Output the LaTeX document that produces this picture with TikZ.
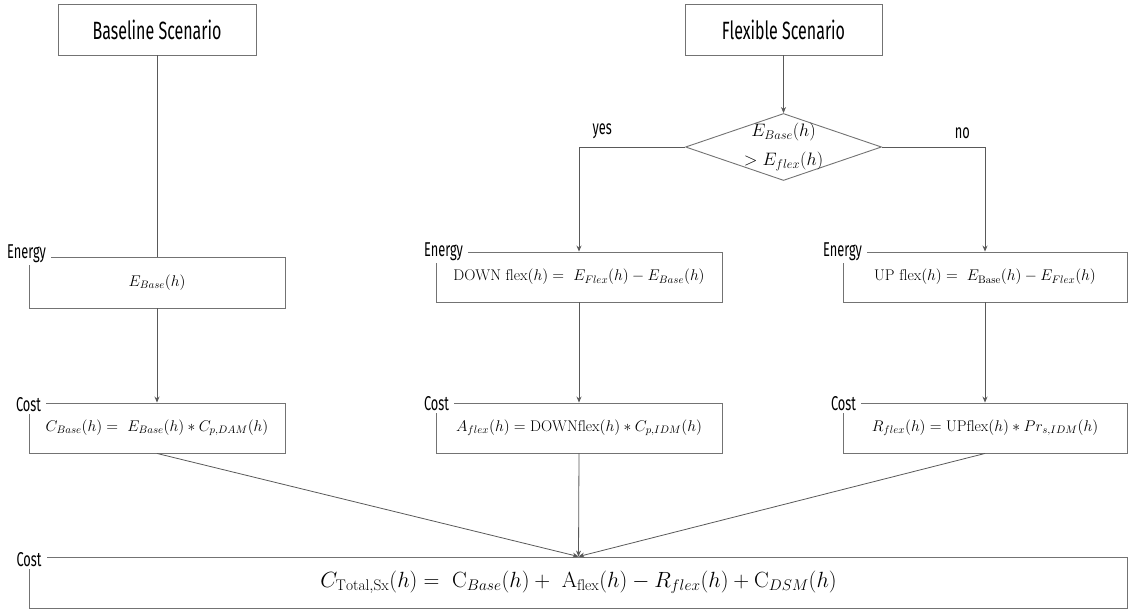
\RequirePackage{fix-cm}
\documentclass[tikz,border=0pt]{standalone}
\usepackage{fontspec}
\newfontfamily\tagfont[FakeStretch=0.64]{Fira Sans}
\usetikzlibrary{shapes.geometric,arrows.meta}
\begin{document}
\begin{tikzpicture}[x=1pt,y=-1pt,
  box/.style={draw=black!55,line width=0.9pt,rectangle,inner sep=0pt,
    font=\fontsize{15.5}{18}\selectfont},
  title/.style={box,font=\tagfont\fontsize{25}{28}\selectfont},
  tag/.style={fill=white,inner xsep=5pt,inner ysep=2pt,
    font=\tagfont\fontsize{20}{22}\selectfont},
  branch/.style={inner sep=0pt,above=8pt,font=\tagfont\fontsize{20}{22}\selectfont},
  link/.style={draw=black!65,line width=0.8pt},
  arr/.style={link,-{Stealth[length=6pt,width=5pt]}},
  ]
\useasboundingbox (0,0) rectangle (1129,612);

% scenario headers
\node[title,minimum width=198pt,minimum height=51pt] (base) at (157,29.5) {Baseline Scenario};
\node[title,minimum width=197pt,minimum height=51pt] (flex) at (783.5,29.5) {Flexible Scenario};

% decision
\node[draw=black!55,line width=0.9pt,diamond,aspect=2.9,inner sep=-12pt,
      minimum width=196pt,minimum height=67pt,align=center,
      font=\fontsize{18}{29}\selectfont] (dec) at (783.5,147)
      {$E_{Base}(h)$\\$> E_{flex}(h)$};

% energy row
\node[box,minimum width=256pt,minimum height=51pt] (e1) at (157,282.5) {$E_{Base}(h)$};
\node[box,minimum width=286pt,minimum height=50pt] (e2) at (579,277)
  {$\mathrm{DOWN\ flex}(h) =\ E_{Flex}(h) - E_{Base}(h)$};
\node[box,minimum width=284pt,minimum height=50pt] (e3) at (985,277)
  {$\mathrm{UP\ flex}(h) =\ E_{\mathrm{Base}}(h) - E_{Flex}(h)$};

% cost row
\node[box,minimum width=256pt,minimum height=50pt] (c1) at (157,428)
  {$C_{Base}(h) =\ E_{Base}(h) \ast C_{p,DAM}(h)$};
\node[box,minimum width=286pt,minimum height=50pt] (c2) at (579,428)
  {$A_{flex}(h) = \mathrm{DOWNflex}(h) \ast C_{p,IDM}(h)$};
\node[box,minimum width=284pt,minimum height=50pt] (c3) at (985,428)
  {$R_{flex}(h) = \mathrm{UPflex}(h) \ast Pr_{s,IDM}(h)$};

% total
\node[box,minimum width=1098pt,minimum height=51pt,font=\fontsize{22}{26}\selectfont] (tot) at (578.5,582.5)
  {$C_{\mathrm{Total,Sx}}(h) =\ \mathrm{C}_{Base}(h) +\ \mathrm{A}_{\mathrm{flex}}(h) - R_{flex}(h) + \mathrm{C}_{DSM}(h)$};

% box tags
\node[tag] (e1t) at ([xshift=-2pt,yshift=3pt]e1.north west) {Energy};
\node[tag] (c1t) at ([yshift=-2pt]c1.north west) {Cost};
\node[tag] (e2t) at ([xshift=8pt]e2.north west) {Energy};
\node[tag] (c2t) at ([xshift=1pt,yshift=-1pt]c2.north west) {Cost};
\node[tag] (e3t) at (e3.north west) {Energy};
\node[tag] (c3t) at ([xshift=1pt,yshift=-1pt]c3.north west) {Cost};
\node[tag] (tott) at ([yshift=-3pt]tot.north west) {Cost};

% connectors
\draw[link] (base) -- (e1);
\draw[arr] (e1) -- (c1);
\draw[arr] (flex) -- (dec);
\draw[arr] (dec.west) -| node[branch,pos=0.39] (yes) {yes} (e2.north);
\draw[arr] (dec.east) -| node[branch,pos=0.39] (no) {no} (e3.north);
\draw[arr] (e2) -- (c2);
\draw[arr] (e3) -- (c3);
\draw[arr] (c1.south) -- (tot.north);
\draw[arr] (c2.south) -- (tot.north);
\draw[arr] (c3.south) -- (tot.north);
\end{tikzpicture}
\end{document}
